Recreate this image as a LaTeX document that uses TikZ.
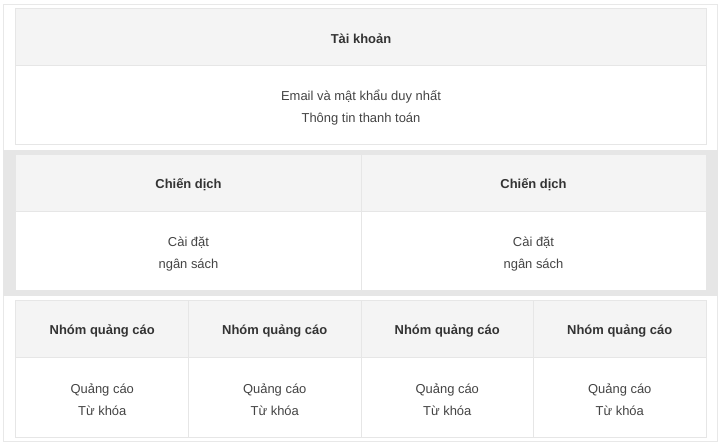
\documentclass[tikz,border=0pt]{standalone}
\usepackage{fontspec}
\setmainfont{Liberation Sans}
\definecolor{hdrfill}{HTML}{F4F4F4}
\definecolor{cellline}{HTML}{E6E6E6}
\definecolor{bandfill}{HTML}{E6E6E6}
\definecolor{framecol}{HTML}{E8E8E8}
\definecolor{hdrtext}{HTML}{333333}
\definecolor{bodytext}{HTML}{444444}
\tikzset{
  cell/.style={rectangle, draw=cellline, line width=1bp, inner sep=0pt},
  hdrcell/.style={cell, fill=hdrfill, minimum height=57bp},
  bodycell/.style={cell, fill=white, minimum height=79bp},
  hdrtxt/.style={inner sep=0pt, align=center, text=hdrtext, font=\fontsize{13}{22}\selectfont\bfseries, yshift=-1.5bp},
  bodytxt/.style={inner sep=0pt, align=center, text=bodytext, font=\fontsize{13}{22}\selectfont, yshift=-2.5bp},
}
\begin{document}
\begin{tikzpicture}[x=1bp,y=-1bp]
\useasboundingbox (0,0) rectangle (724,448);
\fill[white] (0,0) rectangle (724,448);
% outer frame
\draw[framecol, line width=1bp] (3.5,4.5) rectangle (717.5,441.5);
% gray band
\fill[bandfill] (3,150) rectangle (718,296);
% top table
\node[hdrcell, minimum width=690bp] (acch) at (361,37.5) {};
\node[bodycell, minimum width=690bp] (accb) at (361,105.5) {};
\node[hdrtxt] (accht) at (acch.center) {Tài khoản};
\node[bodytxt] (accbt) at (accb.center) {Email và mật khẩu duy nhất\\Thông tin thanh toán};
% middle table
\foreach \i/\cx in {1/188.5,2/533.5}{
  \node[hdrcell, minimum width=345bp] (c\i h) at (\cx,183.5) {};
  \node[bodycell, minimum width=345bp] (c\i b) at (\cx,251.5) {};
  \node[hdrtxt] (c\i ht) at (c\i h.center) {Chiến dịch};
  \node[bodytxt] (c\i bt) at (c\i b.center) {Cài đặt\\ngân sách};
}
% bottom table
\foreach \i/\cx in {1/102.25,2/274.75,3/447.25,4/619.75}{
  \node[hdrcell, minimum width=172.5bp] (g\i h) at (\cx,329.5) {};
  \node[bodycell, minimum width=172.5bp] (g\i b) at (\cx,397.5) {};
  \node[hdrtxt] (g\i ht) at (g\i h.center) {Nhóm quảng cáo};
  \node[bodytxt] (g\i bt) at (g\i b.center) {Quảng cáo\\Từ khóa};
}
\end{tikzpicture}
\end{document}
